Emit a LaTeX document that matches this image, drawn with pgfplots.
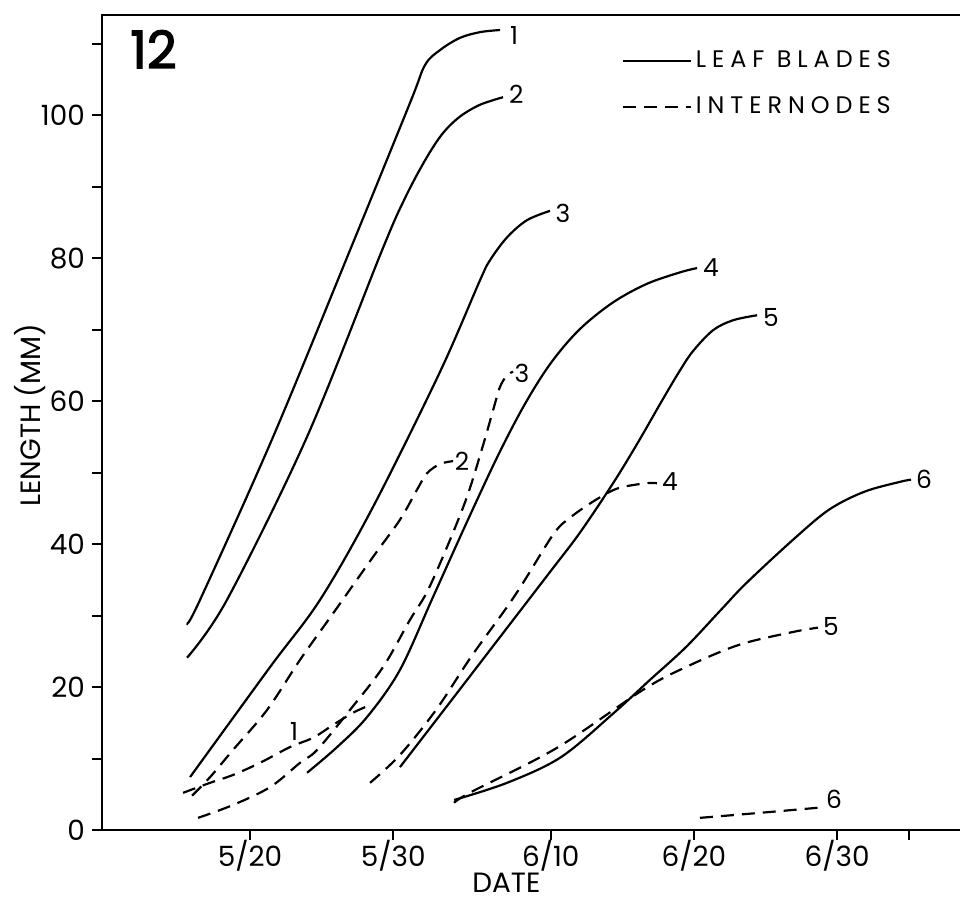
\documentclass[border=0pt]{standalone}
\usepackage{pgfplots}
\pgfplotsset{compat=1.18}
\usepackage{fontspec}
\setmainfont{Poppins}

% x = day of year (5/20 = 140), y = length in mm
\begin{document}
\begin{tikzpicture}
\begin{axis}[
  scale only axis, width=432bp, height=407.5bp,
  xmin=129.66, xmax=190, ymin=0, ymax=114,
  axis line style={line width=1bp},
  tick style={line width=1bp, black},
  tick align=outside, tick pos=left,
  major tick length=5bp, minor tick length=5bp,
  xtick={140,150,161,171,181,186},
  xticklabels={5/20,5/30,6/10,6/20,6/30,{}},
  ytick={0,20,...,100},
  minor ytick={10,30,...,110},
  /pgf/number format/assume math mode=true,
  tick label style={font=\fontsize{14}{16}\selectfont},
  xticklabel style={yshift=3.5bp},
  xlabel={DATE}, ylabel={LENGTH (MM)},
  label style={font=\fontsize{14}{16}\selectfont},
  xlabel style={at={(axis description cs:0.468,-0.065)}, anchor=center},
  ylabel style={at={(axis description cs:-0.083,0.509)}, anchor=center},
  legend style={draw=none, fill=none, at={(rel axis cs:0.594,0.966)}, anchor=north west,
    font=\fontsize{12}{14}\selectfont\addfontfeatures{LetterSpace=25}, row sep=9bp},
  legend cell align=left,
  legend image code/.code={\draw[#1] (0bp,0bp) -- (34bp,0bp);},
  leaf/.style={black, line width=1.1pt, mark=none, smooth, tension=0.55},
  inter/.style={leaf, dash pattern=on 6.5bp off 4bp},
]
% leaf blades
\addplot[leaf] coordinates {(135.60,28.9) (136.51,32.2) (141.61,55.0) (146.98,81.1) (151.17,101.7) (152.22,107.0) (153.27,109.1) (154.66,110.8) (156.06,111.6) (157.46,111.9)};
\addlegendentry{LEAF BLADES}
% internodes
\addplot[inter] coordinates {(135.32,5.2) (137.21,6.6) (138.81,7.7) (140.70,9.4) (142.79,11.6) (144.40,12.9) (145.80,14.7) (147.19,16.4) (148.17,17.3)};
\addlegendentry{INTERNODES}

\addplot[leaf, forget plot] coordinates {(135.60,24.1) (138.39,32.2) (143.98,55.0) (149.22,81.1) (150.80,88.3) (152.20,93.6) (153.40,97.3) (154.60,99.7) (155.90,101.3) (157.00,102.1) (157.67,102.5)};
\addplot[leaf, forget plot] coordinates {(135.81,7.4) (141.40,22.8) (144.89,32.2) (148.59,45.2) (153.27,64.1) (156.06,76.9) (156.76,79.7) (157.95,82.9) (159.34,85.3) (160.95,86.6)};
\addplot[leaf, forget plot] coordinates {(143.98,8.0) (146.08,11.6) (148.17,15.8) (150.47,22.4) (152.78,32.6) (155.15,43.1) (157.32,52.4) (159.20,59.6) (161.00,65.3) (163.00,70.0) (165.35,73.8) (167.72,76.4) (170.03,78.0) (171.22,78.6)};
\addplot[leaf, forget plot] coordinates {(150.47,8.8) (153.97,17.9) (157.46,27.0) (160.95,36.1) (163.04,41.6) (165.35,48.5) (167.03,54.0) (168.84,60.3) (170.03,64.3) (170.94,67.0) (172.33,69.9) (173.73,71.3) (175.41,72.0)};
\addplot[leaf, forget plot] coordinates {(154.25,4.2) (157.95,6.6) (161.72,10.2) (165.42,16.4) (167.93,21.0) (170.45,25.6) (172.89,30.8) (174.64,34.5) (177.92,40.6) (180.43,44.8) (182.88,47.3) (185.39,48.7) (186.16,49.0)};

\addplot[inter, forget plot] coordinates {(135.95,4.8) (137.21,7.4) (138.81,11.2) (141.19,16.8) (143.49,23.8) (145.80,30.3) (148.59,38.2) (150.47,43.4) (151.66,47.6) (152.36,49.9) (153.27,51.2) (154.18,51.6)};
\addplot[inter, forget plot] coordinates {(136.37,1.7) (138.81,3.5) (141.40,6.0) (143.49,9.4) (144.68,11.2) (146.98,16.8) (149.29,22.8) (151.17,29.4) (152.36,33.3) (153.76,39.6) (155.15,46.6) (156.27,53.8) (156.97,58.7) (157.46,62.0) (157.95,63.6) (158.37,64.1)};
\addplot[inter, forget plot] coordinates {(148.38,6.6) (150.47,10.5) (152.99,16.8) (155.43,24.2) (157.95,31.2) (159.20,35.0) (161.23,41.5) (162.42,43.8) (164.16,46.2) (165.70,47.8) (167.65,48.5) (168.42,48.5)};
\addplot[inter, forget plot] coordinates {(154.25,3.8) (155.43,5.3) (161.44,11.5) (167.44,19.6) (170.45,22.8) (174.15,25.9) (177.92,27.7) (179.66,28.3)};
\addplot[inter, forget plot] coordinates {(171.42,1.7) (175.61,2.4) (180.15,3.2)};

\begin{scope}[every node/.style={font=\fontsize{12.5}{14}\selectfont}]
\node at (axis cs:158.44,111.2) {1};
\node at (axis cs:158.60,102.9) {2};
\node at (axis cs:161.86,86.3) {3};
\node at (axis cs:172.19,78.7) {4};
\node at (axis cs:176.38,71.7) {5};
\node at (axis cs:187.07,49.1) {6};
\node at (axis cs:143.07,13.8) {1};
\node at (axis cs:154.80,51.5) {2};
\node at (axis cs:158.99,63.9) {3};
\node at (axis cs:169.33,48.8) {4};
\node at (axis cs:180.57,28.4) {5};
\node at (axis cs:180.78,4.3) {6};
\end{scope}
\node[font=\fontsize{26}{28}\selectfont\addfontfeatures{FakeBold=2.5}] at (rel axis cs:0.0596,0.958) {12};
\end{axis}
\pgfresetboundingbox
\path[use as bounding box] (-51bp,-35bp) rectangle (429bp,415bp);
\end{tikzpicture}
\end{document}
